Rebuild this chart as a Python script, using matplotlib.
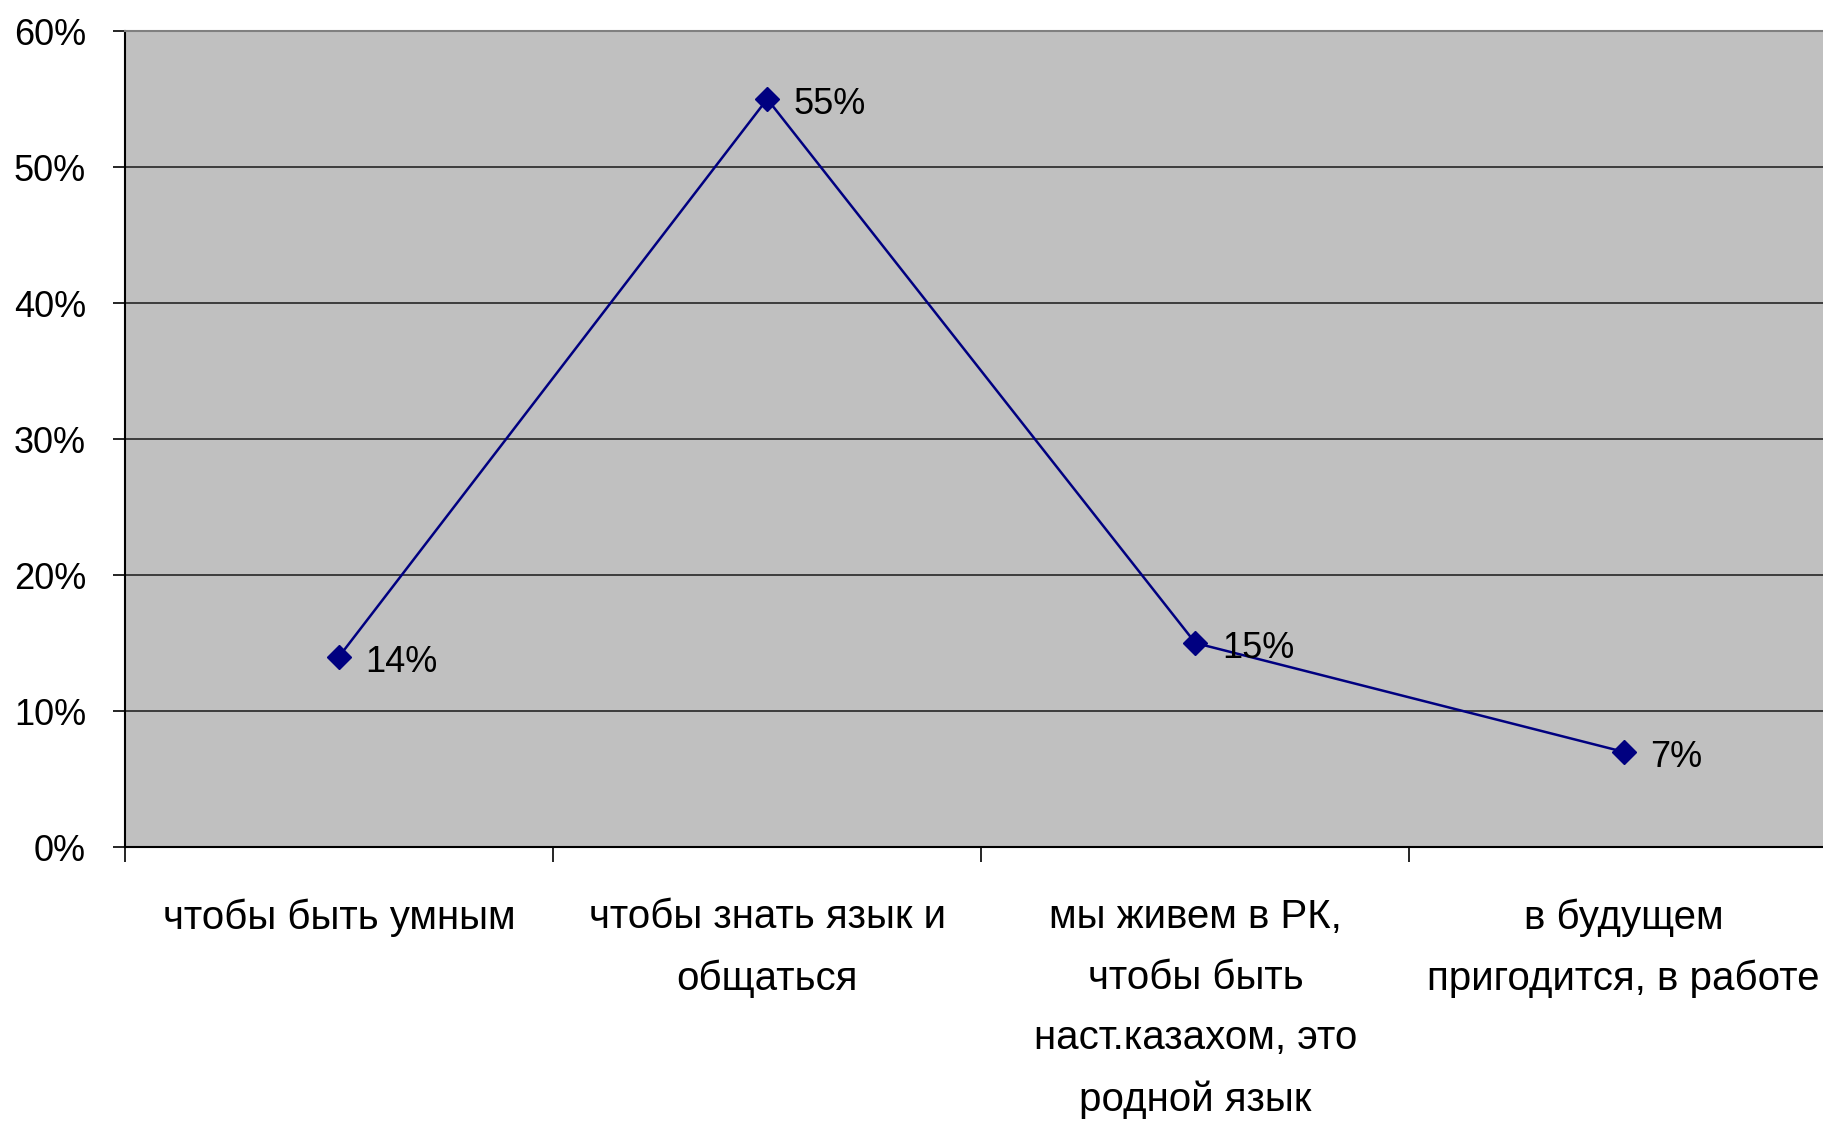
"""Line chart: reasons for learning the language (survey shares)."""

import matplotlib

matplotlib.use("Agg")
import matplotlib.pyplot as plt
from matplotlib import font_manager
from matplotlib.ticker import FixedLocator, FuncFormatter

categories = [
    "чтобы быть умным",
    "чтобы знать язык и\nобщаться",
    "мы живем в РК,\nчтобы быть\nнаст.казахом, это\nродной язык",
    "в будущем\nпригодится, в работе",
]
shares = [0.14, 0.55, 0.15, 0.07]
point_labels = ["14%", "55%", "15%", "7%"]
y_ticks = [0.0, 0.1, 0.2, 0.3, 0.4, 0.5, 0.6]

# Narrow face if present, otherwise the regular one
_names = {f.name for f in font_manager.fontManager.ttflist}
if "Liberation Sans Narrow" in _names:
    FONT = ["Liberation Sans Narrow", "DejaVu Sans"]
    TICK_FS, CAT_FS = 29, 35
else:
    FONT = ["Liberation Sans", "DejaVu Sans"]
    TICK_FS, CAT_FS = 26, 29
plt.rcParams["font.family"] = FONT

fig = plt.figure(figsize=(18.24, 11.24), dpi=100)
ax = fig.add_axes([0.0685, 0.2464, 0.939, 0.726])
ax.set_facecolor("#c0c0c0")

x = list(range(len(categories)))
ax.plot(
    x,
    shares,
    color="#000080",
    linewidth=1.8,
    marker="D",
    markersize=12,
    markerfacecolor="#000080",
    markeredgecolor="#000080",
    zorder=3,
)

for xi, yi, lab in zip(x, shares, point_labels):
    ax.annotate(
        lab,
        (xi, yi),
        xytext=(19, -4),
        textcoords="offset points",
        ha="left",
        va="center",
        fontsize=TICK_FS,
        color="black",
        zorder=4,
    )

ax.set_xlim(-0.5, len(categories) - 0.5)
ax.set_ylim(0, 0.6)

ax.yaxis.set_major_locator(FixedLocator(y_ticks))
ax.yaxis.set_major_formatter(FuncFormatter(lambda v, _: f"{v * 100:.0f}%"))
ax.yaxis.grid(True, color="#262626", linewidth=1.2)
ax.set_axisbelow(True)
ax.tick_params(
    axis="y", direction="out", length=9, width=1.2, pad=19, labelsize=TICK_FS
)

# Tick marks between categories, labels at category centres
ax.xaxis.set_major_locator(FixedLocator([i - 0.5 for i in range(len(categories) + 1)]))
ax.xaxis.set_major_formatter(FuncFormatter(lambda v, _: ""))
ax.xaxis.set_minor_locator(FixedLocator(x))
ax.set_xticklabels(categories, minor=True, fontsize=CAT_FS, linespacing=1.75)
ax.tick_params(axis="x", which="major", direction="out", length=11, width=1.2)
ax.tick_params(axis="x", which="minor", length=0, pad=37)

ax.spines["left"].set_color("black")
ax.spines["left"].set_linewidth(1.5)
ax.spines["bottom"].set_color("black")
ax.spines["bottom"].set_linewidth(1.5)
ax.spines["top"].set_color("#808080")
ax.spines["top"].set_linewidth(1.5)
ax.spines["right"].set_visible(False)

fig.savefig("out.png", dpi=100, facecolor="white")
